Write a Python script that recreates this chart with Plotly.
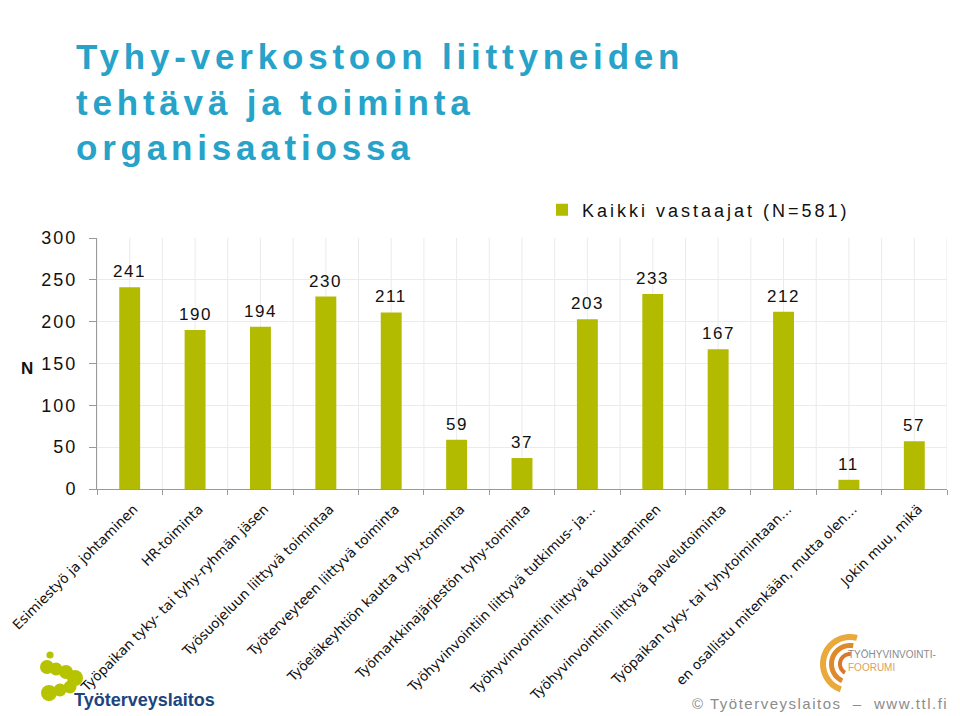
import numpy as np
import plotly.graph_objects as go

categories = [
    "Esimiestyö ja johtaminen",
    "HR-toiminta",
    "Työpaikan tyky- tai tyhy-ryhmän jäsen",
    "Työsuojeluun liittyvä toimintaa",
    "Työterveyteen liittyvä toiminta",
    "Työeläkeyhtiön kautta tyhy-toiminta",
    "Työmarkkinajärjestön tyhy-toiminta",
    "Työhyvinvointiin liittyvä tutkimus- ja…",
    "Työhyvinvointiin liittyvä kouluttaminen",
    "Työhyvinvointiin liittyvä palvelutoiminta",
    "Työpaikan tyky- tai tyhytoimintaan…",
    "en osallistu mitenkään, mutta olen…",
    "Jokin muu, mikä",
]
values = [241, 190, 194, 230, 211, 59, 37, 203, 233, 167, 212, 11, 57]
series_name = "Kaikki vastaajat (N=581)"
y_ticks = [0, 50, 100, 150, 200, 250, 300]
title_lines = ["Tyhy-verkostoon liittyneiden", "tehtävä ja toiminta", "organisaatiossa"]

W, H = 960, 716
L, R, T, B = 97, 947, 238, 489  # plot area in px


def px(x):
    return (x - L) / (R - L)


def py(y):
    return (B - y) / (B - T)


def sp(text, ls):
    return f'<span style="letter-spacing:{ls}px">{text}</span>'


BAR = "#b3bb00"
GRID = "#ebebeb"
fig = go.Figure()
fig.add_trace(go.Bar(
    x=categories, y=values, name=sp(series_name, 3.0),
    marker=dict(color=BAR, line=dict(width=0)),
    hoverinfo="skip",
))

annotations = []
for c, v in zip(categories, values):
    annotations.append(dict(
        x=c, y=v, xref="x", yref="y", text=sp(str(v), 1.6), showarrow=False,
        yanchor="bottom", yshift=4,
        font=dict(family="Liberation Sans, Arial", size=17, color="#111"),
    ))

annotations.append(dict(
    xref="paper", yref="paper", x=px(74), y=py(35), xanchor="left", yanchor="top",
    align="left", showarrow=False,
    text="<br>".join(sp(f"<b>{t}</b>", 4.8) for t in title_lines),
    font=dict(family="Liberation Sans, Arial", size=35, color="#27a2c8"),
))
annotations.append(dict(
    xref="paper", yref="paper", x=px(27), y=py(368), xanchor="center", yanchor="middle",
    showarrow=False, text="<b>N</b>",
    font=dict(family="Liberation Sans, Arial", size=17, color="#111"),
))
annotations.append(dict(
    xref="paper", yref="paper", x=px(950), y=py(703), xanchor="right", yanchor="middle",
    showarrow=False, text=sp("© Työterveyslaitos  –  www.ttl.fi", 1.5),
    font=dict(family="Liberation Sans, Arial", size=15, color="#8c8c8c"),
))
annotations.append(dict(
    xref="paper", yref="paper", x=px(72), y=py(700), xanchor="left", yanchor="middle",
    showarrow=False, text="<b>Työterveyslaitos</b>",
    font=dict(family="Liberation Sans, Arial", size=18, color="#1c4580"),
))
annotations.append(dict(
    xref="paper", yref="paper", x=px(846), y=py(661), xanchor="left", yanchor="middle",
    showarrow=False, align="left",
    text='TYÖHYVINVOINTI-<br><span style="color:#dba25a">FOORUMI</span>',
    font=dict(family="Liberation Sans, Arial", size=10, color="#8a8a8a"),
))

shapes = []
# faint vertical grid lines at category boundaries and centres
for k in range(2 * len(categories) + 1):
    xv = -0.5 + 0.5 * k
    shapes.append(dict(type="line", xref="x", yref="y", x0=xv, x1=xv, y0=0, y1=300,
                       line=dict(color=GRID, width=1), layer="below"))

# Työterveyslaitos green blob logo
G = "#b5c300"
for cx, cy, r in [(50, 655, 3.6), (47, 667, 7), (56, 669, 6.5), (66, 672, 7), (75, 678, 8),
                  (70, 687, 6.5), (60, 690, 6.5), (49, 693, 8)]:
    shapes.append(dict(type="circle", xref="paper", yref="paper",
                       x0=px(cx - r), x1=px(cx + r), y0=py(cy + r), y1=py(cy - r),
                       fillcolor=G, line=dict(width=0), layer="below"))


def arc_path(cx, cy, r_out, r_in, a0, a1):
    a = np.linspace(np.radians(a0), np.radians(a1), 40)
    pts_o = [(cx + r_out * np.cos(t), cy - r_out * np.sin(t)) for t in a]
    pts_i = [(cx + r_in * np.cos(t), cy - r_in * np.sin(t)) for t in a[::-1]]
    pts = pts_o + pts_i
    return "M" + " L".join(f"{px(x):.5f},{py(y):.5f}" for x, y in pts) + " Z"


for r_o, r_i, a0, a1, col in [(30, 24, 75, 250, "#e9a93b"), (21, 16, 80, 245, "#de8a2c"),
                              (12, 8, 85, 240, "#d9772a")]:
    shapes.append(dict(type="path", xref="paper", yref="paper",
                       path=arc_path(850, 664, r_o, r_i, a0, a1),
                       fillcolor=col, line=dict(width=0), layer="above"))

fig.update_layout(
    width=W, height=H,
    margin=dict(l=L, r=W - R, t=T, b=H - B, pad=0, autoexpand=False),
    paper_bgcolor="white", plot_bgcolor="white",
    bargap=0.68,
    showlegend=True,
    legend=dict(x=px(542), y=py(210), xanchor="left", yanchor="middle",
                font=dict(family="Liberation Sans, Arial", size=18, color="#111"),
                bgcolor="rgba(0,0,0,0)", itemwidth=30),
    xaxis=dict(
        type="category", range=[-0.5, len(categories) - 0.5],
        showline=True, linecolor="#9a9a9a", linewidth=1,
        ticks="outside", tickson="boundaries", ticklen=5, tickcolor="#9a9a9a",
        tickangle=-45, showgrid=False, ticklabelstandoff=6, ticklabelshift=4,
        tickfont=dict(family="DejaVu Sans, Verdana", size=13.5, color="#111"),
    ),
    yaxis=dict(
        range=[0, 300], tickvals=y_ticks,
        ticktext=[sp(str(t), 2) for t in y_ticks],
        showline=True, linecolor="#9a9a9a", linewidth=1,
        ticks="outside", ticklen=7, tickcolor="#9a9a9a", ticklabelstandoff=8,
        showgrid=True, gridcolor=GRID, zeroline=False,
        tickfont=dict(family="Liberation Sans, Arial", size=18, color="#111"),
    ),
    annotations=annotations,
    shapes=shapes,
)

fig.write_html(
    "out.html",
    config={"displayModeBar": False},
    post_script="document.body.style.margin='0';document.body.style.padding='0';",
)
